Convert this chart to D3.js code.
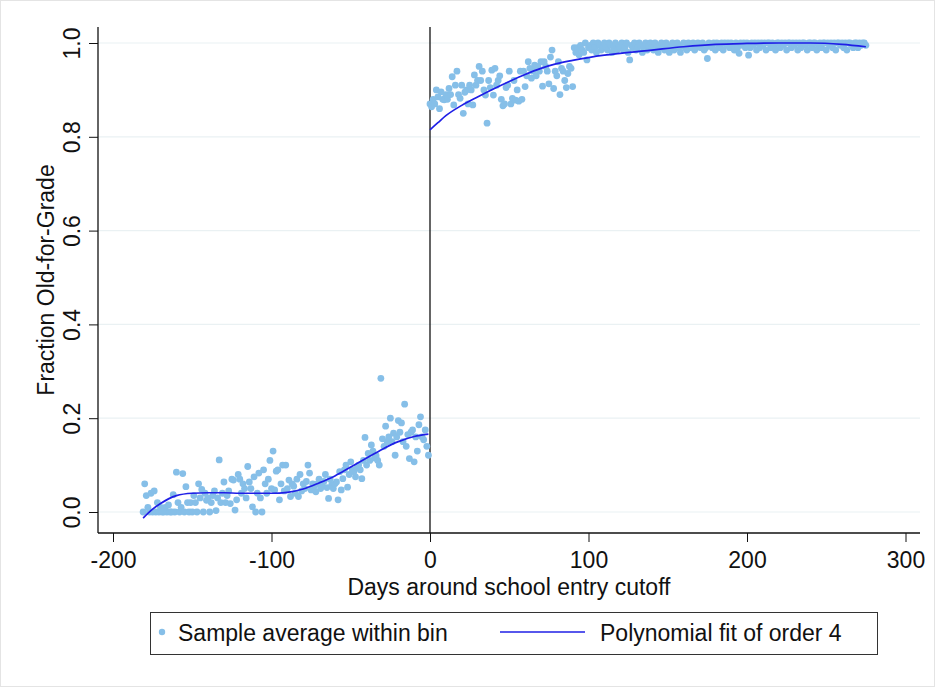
<!DOCTYPE html>
<html>
<head>
<meta charset="utf-8">
<script src="https://cdn.jsdelivr.net/npm/d3@7"></script>
<style>
  body { margin: 0; background: #fff; }
  text { font-family: "Liberation Sans", Arial, sans-serif; fill: #111; }
</style>
</head>
<body>
<svg id="chart" width="935" height="687"></svg>
<script>
// Binned sample averages, one per day, left of the cutoff (starting at day -181)
const leftStart = -181;
const leftValues = [
  0.00, 0.06, 0.035, 0.01, 0.00, 0.04, 0.00, 0.045, 0.00, 0.02,
  0.00, 0.01, 0.00, 0.00, 0.01, 0.00, 0.015, 0.00, 0.00, 0.037,
  0.00, 0.085, 0.02, 0.00, 0.01, 0.082, 0.00, 0.054, 0.02, 0.00,
  0.02, 0.00, 0.035, 0.02, 0.00, 0.06, 0.03, 0.048, 0.00, 0.04,
  0.025, 0.03, 0.00, 0.02, 0.035, 0.045, 0.003, 0.03, 0.111, 0.02,
  0.04, 0.064, 0.02, 0.035, 0.045, 0.018, 0.07, 0.068, 0.004, 0.026,
  0.08, 0.07, 0.04, 0.06, 0.05, 0.03, 0.097, 0.064, 0.05, 0.011,
  0.075, 0.00, 0.04, 0.083, 0.03, 0.00, 0.09, 0.06, 0.04, 0.07,
  0.11, 0.05, 0.13, 0.047, 0.087, 0.09, 0.026, 0.06, 0.10, 0.045,
  0.10, 0.05, 0.068, 0.033, 0.06, 0.055, 0.04, 0.07, 0.033, 0.08,
  0.045, 0.06, 0.05, 0.065, 0.10, 0.083, 0.047, 0.06, 0.055, 0.043,
  0.06, 0.07, 0.05, 0.055, 0.065, 0.08, 0.052, 0.029, 0.07, 0.058,
  0.05, 0.06, 0.064, 0.026, 0.086, 0.047, 0.071, 0.09, 0.10, 0.053,
  0.08, 0.107, 0.09, 0.086, 0.075, 0.095, 0.10, 0.09, 0.071, 0.11,
  0.159, 0.10, 0.125, 0.11, 0.143, 0.13, 0.115, 0.12, 0.11, 0.10,
  0.285, 0.156, 0.14, 0.183, 0.15, 0.16, 0.20, 0.15, 0.168, 0.121,
  0.16, 0.195, 0.17, 0.19, 0.15, 0.23, 0.14, 0.165, 0.114, 0.17,
  0.175, 0.107, 0.16, 0.13, 0.186, 0.203, 0.16, 0.154, 0.175, 0.14,
  0.121
];

// Right of the cutoff, starting at day 0
const rightStart = 0;
const rightValues = [
  0.87, 0.864, 0.88, 0.87, 0.90, 0.885, 0.86, 0.896, 0.88, 0.879,
  0.89, 0.88, 0.903, 0.89, 0.928, 0.868, 0.91, 0.94, 0.89, 0.882,
  0.91, 0.85, 0.895, 0.90, 0.87, 0.91, 0.90, 0.868, 0.932, 0.91,
  0.92, 0.95, 0.92, 0.94, 0.90, 0.889, 0.829, 0.92, 0.905, 0.942,
  0.889, 0.946, 0.91, 0.92, 0.93, 0.88, 0.866, 0.87, 0.905, 0.91,
  0.94, 0.87, 0.882, 0.92, 0.878, 0.90, 0.876, 0.94, 0.88, 0.94,
  0.907, 0.93, 0.96, 0.946, 0.925, 0.94, 0.953, 0.93, 0.95, 0.94,
  0.96, 0.908, 0.96, 0.95, 0.94, 0.913, 0.97, 0.985, 0.903, 0.94,
  0.93, 0.96, 0.89, 0.946, 0.94, 0.92, 0.905, 0.935, 0.95, 0.946,
  0.907, 0.99, 0.98, 0.99, 0.975, 0.995, 0.985, 0.98, 1.0, 0.964,
  0.99, 0.995, 0.985, 1.0, 0.99, 0.98, 1.0, 0.995, 0.985, 0.99,
  1.0, 0.99, 0.985, 1.0, 0.995, 0.98, 0.99, 1.0, 0.985, 0.995,
  0.99, 1.0, 0.985, 0.99, 1.0, 0.98, 0.964, 0.995, 0.99, 1.0,
  0.985, 0.99, 1.0, 0.995, 0.98, 0.99, 1.0, 0.985, 0.995, 1.0,
  0.99, 0.985, 1.0, 0.99, 0.98, 0.995, 1.0, 0.99, 0.985, 1.0,
  0.995, 0.98, 0.99, 1.0, 0.985, 0.995, 1.0, 0.99, 0.98, 0.995,
  1.0, 0.99, 0.985, 1.0, 0.995, 0.99, 1.0, 0.985, 0.99, 1.0,
  0.995, 0.99, 1.0, 0.985, 0.99, 0.967, 1.0, 0.995, 0.99, 1.0,
  0.985, 1.0, 0.995, 0.99, 1.0, 0.985, 1.0, 0.995, 1.0, 0.99,
  1.0, 0.995, 0.985, 1.0, 0.99, 0.978, 1.0, 0.995, 1.0, 0.99,
  1.0, 0.974, 0.99, 1.0, 0.995, 1.0, 0.985, 1.0, 0.99, 1.0,
  0.995, 1.0, 0.985, 1.0, 1.0, 0.99, 1.0, 0.995, 0.985, 1.0,
  1.0, 0.99, 1.0, 0.995, 1.0, 0.985, 1.0, 1.0, 0.99, 1.0,
  0.995, 1.0, 0.985, 1.0, 0.99, 1.0, 1.0, 0.995, 0.985, 1.0,
  1.0, 0.99, 1.0, 1.0, 0.985, 0.995, 1.0, 0.99, 1.0, 1.0,
  0.985, 1.0, 0.995, 1.0, 0.99, 1.0, 0.985, 1.0, 1.0, 0.995,
  1.0, 0.99, 1.0, 0.985, 1.0, 1.0, 0.995, 0.99, 1.0, 1.0,
  0.99, 1.0, 0.995, 1.0, 1.0, 0.995
];

// Polynomial fit (order 4): [day, value]
const leftFit = [
  [-181, -0.013], [-175, 0.006], [-170, 0.018], [-165, 0.028], [-160, 0.035],
  [-150, 0.040], [-140, 0.041], [-130, 0.041], [-120, 0.040], [-110, 0.040],
  [-100, 0.040], [-90, 0.042], [-80, 0.049], [-70, 0.062], [-60, 0.077],
  [-50, 0.096], [-40, 0.115], [-30, 0.134], [-20, 0.150], [-10, 0.161], [-1, 0.166]
];
const rightFit = [
  [0, 0.815], [5, 0.83], [10, 0.845], [20, 0.867], [30, 0.885], [40, 0.902],
  [50, 0.918], [60, 0.933], [70, 0.946], [80, 0.956], [90, 0.963], [100, 0.969],
  [110, 0.974], [120, 0.978], [140, 0.985], [160, 0.992], [180, 0.997],
  [200, 0.999], [220, 1.0], [240, 1.0], [260, 0.997], [275, 0.992]
];

const xTicks = [-200, -100, 0, 100, 200, 300];
const yTicks = [0, 0.2, 0.4, 0.6, 0.8, 1.0];

const dotColor = "#86bfe8";
const lineColor = "#1f1fe6";
const fontSize = "23px";

// plot region
const plotLeft = 98, plotRight = 920, plotTop = 27, plotBottom = 533;

const svg = d3.select("#chart");

// outer graph border
svg.append("rect")
  .attr("x", 0.5).attr("y", 0.5)
  .attr("width", 934).attr("height", 686)
  .attr("fill", "#fff")
  .attr("stroke", "#e4e4e4");

const x = d3.scaleLinear().domain([-200, 300]).range([113, 905.5]);
const y = d3.scaleLinear().domain([0, 1]).range([512, 43]);

// gridlines
svg.append("g")
  .selectAll("line")
  .data(yTicks)
  .enter()
  .append("line")
  .attr("x1", plotLeft)
  .attr("x2", plotRight)
  .attr("y1", (d) => y(d))
  .attr("y2", (d) => y(d))
  .attr("stroke", "#eaf1f3")
  .attr("stroke-width", 1.2);

// y axis
const yAxis = svg.append("g")
  .attr("transform", `translate(${plotLeft},0)`)
  .call(d3.axisLeft(y).tickValues(yTicks).tickFormat(d3.format(".1f")).tickSize(9).tickSizeOuter(0));
yAxis.select(".domain").remove();
yAxis.selectAll(".tick line").attr("stroke", "#111");
yAxis.selectAll(".tick text")
  .attr("x", null)
  .attr("dy", null)
  .attr("transform", "translate(-18,0) rotate(-90)")
  .attr("text-anchor", "middle")
  .style("font-size", fontSize)
  .style("font-family", "Liberation Sans, Arial, sans-serif")
  .attr("fill", "#111");

// x axis (plain hyphen for negatives, as in the original)
const xAxis = svg.append("g")
  .attr("transform", `translate(0,${plotBottom})`)
  .call(d3.axisBottom(x).tickValues(xTicks).tickFormat((d) => String(d)).tickSize(9).tickSizeOuter(0));
xAxis.select(".domain").remove();
xAxis.selectAll(".tick line").attr("stroke", "#111");
xAxis.selectAll(".tick text")
  .attr("y", 19)
  .style("font-size", fontSize)
  .style("font-family", "Liberation Sans, Arial, sans-serif")
  .attr("fill", "#111");

// axis lines
svg.append("line")
  .attr("x1", plotLeft).attr("x2", plotLeft)
  .attr("y1", plotTop).attr("y2", plotBottom)
  .attr("stroke", "#111").attr("stroke-width", 1.3);
svg.append("line")
  .attr("x1", plotLeft).attr("x2", plotRight)
  .attr("y1", plotBottom).attr("y2", plotBottom)
  .attr("stroke", "#111").attr("stroke-width", 1.3);

// cutoff line at day 0
svg.append("line")
  .attr("x1", x(0)).attr("x2", x(0))
  .attr("y1", plotTop).attr("y2", plotBottom)
  .attr("stroke", "#111").attr("stroke-width", 1.3);

// scatter points
const points = leftValues.map((v, i) => ({ day: leftStart + i, value: v }))
  .concat(rightValues.map((v, i) => ({ day: rightStart + i, value: v })));

svg.append("g")
  .selectAll("circle")
  .data(points)
  .enter()
  .append("circle")
  .attr("cx", (d) => x(d.day))
  .attr("cy", (d) => y(d.value))
  .attr("r", 3.4)
  .attr("fill", dotColor);

// fitted lines
const line = d3.line()
  .x((d) => x(d[0]))
  .y((d) => y(d[1]))
  .curve(d3.curveMonotoneX);

[leftFit, rightFit].forEach((fit) => {
  svg.append("path")
    .attr("d", line(fit))
    .attr("fill", "none")
    .attr("stroke", lineColor)
    .attr("stroke-width", 1.7);
});

// axis titles
svg.append("text")
  .attr("x", (plotLeft + plotRight) / 2)
  .attr("y", 595)
  .attr("text-anchor", "middle")
  .style("font-size", fontSize)
  .text("Days around school entry cutoff");

svg.append("text")
  .attr("transform", `translate(54,${(plotTop + plotBottom) / 2}) rotate(-90)`)
  .attr("text-anchor", "middle")
  .style("font-size", fontSize)
  .text("Fraction Old-for-Grade");

// legend
const legend = svg.append("g");
legend.append("rect")
  .attr("x", 150.5).attr("y", 612.5)
  .attr("width", 727).attr("height", 42)
  .attr("fill", "#fff")
  .attr("stroke", "#333");
legend.append("circle")
  .attr("cx", 162).attr("cy", 632)
  .attr("r", 3.2)
  .attr("fill", dotColor);
legend.append("text")
  .attr("x", 178).attr("y", 641)
  .style("font-size", fontSize)
  .text("Sample average within bin");
legend.append("line")
  .attr("x1", 500).attr("x2", 585)
  .attr("y1", 632).attr("y2", 632)
  .attr("stroke", lineColor)
  .attr("stroke-width", 1.7);
legend.append("text")
  .attr("x", 600).attr("y", 641)
  .style("font-size", fontSize)
  .text("Polynomial fit of order 4");
</script>
</body>
</html>
